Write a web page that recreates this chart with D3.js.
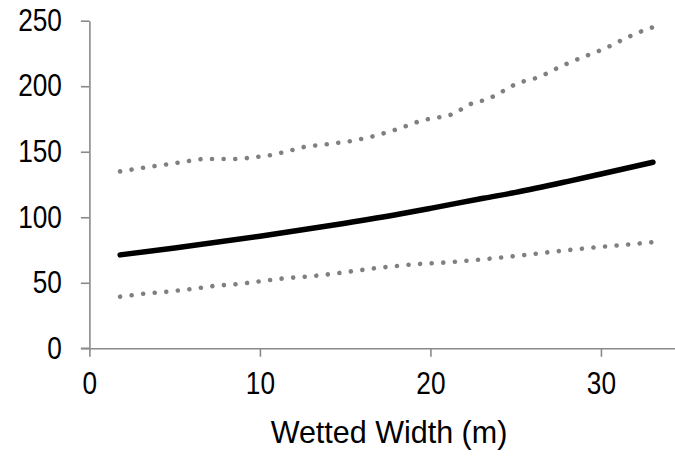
<!DOCTYPE html>
<html>
<head>
<meta charset="utf-8">
<script src="https://cdn.jsdelivr.net/npm/d3@7"></script>
<style>
  html, body { margin: 0; padding: 0; background: #fff; }
  svg { display: block; }
  .tick text { font-family: "Liberation Sans", Arial, sans-serif; font-size: 30.5px; fill: #000; }
  .axis-title { font-family: "Liberation Sans", Arial, sans-serif; font-size: 30.5px; fill: #000; }
</style>
</head>
<body>
<svg id="chart" width="675" height="457"></svg>
<script>
// Fitted relationship vs wetted width (m)
const fitX = [1.8, 5, 10, 15, 18.2, 20, 23.1, 25, 28, 30, 33.05];
const fitY = [71.3, 76.5, 85.5, 95.5, 102.5, 106.8, 114.5, 119, 127.2, 133, 142];

// Upper bound
const upperX = [1.8, 3.2, 4.6, 6.6, 8.7, 9.4, 10.7, 11.4, 12.7, 14.1, 15.5, 16.8, 18.1, 19.4, 20.1, 20.8, 21.4, 22.0, 22.6, 23.3, 24.5, 25.1, 25.8, 26.4, 27.7, 28.9, 30.2, 31.5, 32.7, 33.05];
const upperY = [135, 137.9, 140.5, 144.5, 144.5, 145.3, 147.5, 149.6, 154, 156, 158.4, 162.3, 167.4, 173.5, 175.6, 176.8, 179, 184, 188, 189.5, 198, 202.5, 204.8, 207, 215.5, 222, 228.5, 237, 243.7, 245];

// Lower bound
const lowerX = [1.8, 3.2, 4.6, 6.0, 7.3, 8.7, 10.0, 11.4, 12.8, 14.2, 15.5, 16.85, 19.0, 21.05, 23.1, 25.2, 27.2, 29.3, 31.35, 33.05];
const lowerY = [39.4, 41.7, 43.2, 45.3, 47.6, 49, 51.1, 53.4, 54.7, 56.7, 59, 61.3, 64.1, 65.6, 67.9, 70.7, 73.7, 76.6, 78.9, 81];

const xTicks = [0, 10, 20, 30];
const yTicks = [0, 50, 100, 150, 200, 250];
const xTitle = "Wetted Width (m)";

const svg = d3.select("#chart");

const x = d3.scaleLinear().domain([0, 35]).range([89.4, 686.2]);
const y = d3.scaleLinear().domain([0, 250]).range([348.3, 20.7]);

const axisColor = "#8a8a8a";
const tickLen = 8.5;
const squeeze = 0.86; // condensed look for tick numerals

// Y axis
const gy = svg.append("g")
  .attr("transform", `translate(${x(0)},0)`)
  .call(d3.axisLeft(y).tickValues(yTicks).tickSize(tickLen).tickSizeOuter(0).tickPadding(19));
gy.select(".domain").attr("stroke", axisColor).attr("stroke-width", 1.6);
gy.selectAll(".tick line").attr("stroke", axisColor).attr("stroke-width", 1.6);
gy.selectAll(".tick text")
  .attr("x", -(tickLen + 19) / squeeze)
  .attr("transform", `scale(${squeeze},1)`);

// X axis
const gx = svg.append("g")
  .attr("transform", `translate(0,${y(0)})`)
  .call(d3.axisBottom(x).tickValues(xTicks).tickSize(tickLen).tickSizeOuter(0).tickPadding(16));
gx.select(".domain").attr("stroke", axisColor).attr("stroke-width", 1.6);
gx.selectAll(".tick line").attr("stroke", axisColor).attr("stroke-width", 1.6);
gx.selectAll(".tick text")
  .attr("dy", "0.71em")
  .attr("transform", `scale(${squeeze},1)`);

// Extend x axis line slightly left to meet the y tick
svg.append("line")
  .attr("x1", x(0) - tickLen).attr("x2", x(0))
  .attr("y1", y(0)).attr("y2", y(0))
  .attr("stroke", axisColor).attr("stroke-width", 1.6);

svg.append("text")
  .attr("class", "axis-title")
  .attr("x", 389)
  .attr("y", 443)
  .attr("text-anchor", "middle")
  .text(xTitle);

const line = d3.line().x(d => x(d[0])).y(d => y(d[1]));
const smooth = d3.line().curve(d3.curveMonotoneX).x(d => x(d[0])).y(d => y(d[1]));

const upper = upperX.map((v, i) => [v, upperY[i]]);
const lower = lowerX.map((v, i) => [v, lowerY[i]]);
const fit = fitX.map((v, i) => [v, fitY[i]]);

[upper, lower].forEach(d => {
  svg.append("path")
    .datum(d)
    .attr("d", line)
    .attr("fill", "none")
    .attr("stroke", "#808080")
    .attr("stroke-width", 4.6)
    .attr("stroke-linecap", "round")
    .attr("stroke-dasharray", "0.01 11.6");
});

svg.append("path")
  .datum(fit)
  .attr("d", smooth)
  .attr("fill", "none")
  .attr("stroke", "#000")
  .attr("stroke-width", 5.5)
  .attr("stroke-linecap", "round");
</script>
</body>
</html>
